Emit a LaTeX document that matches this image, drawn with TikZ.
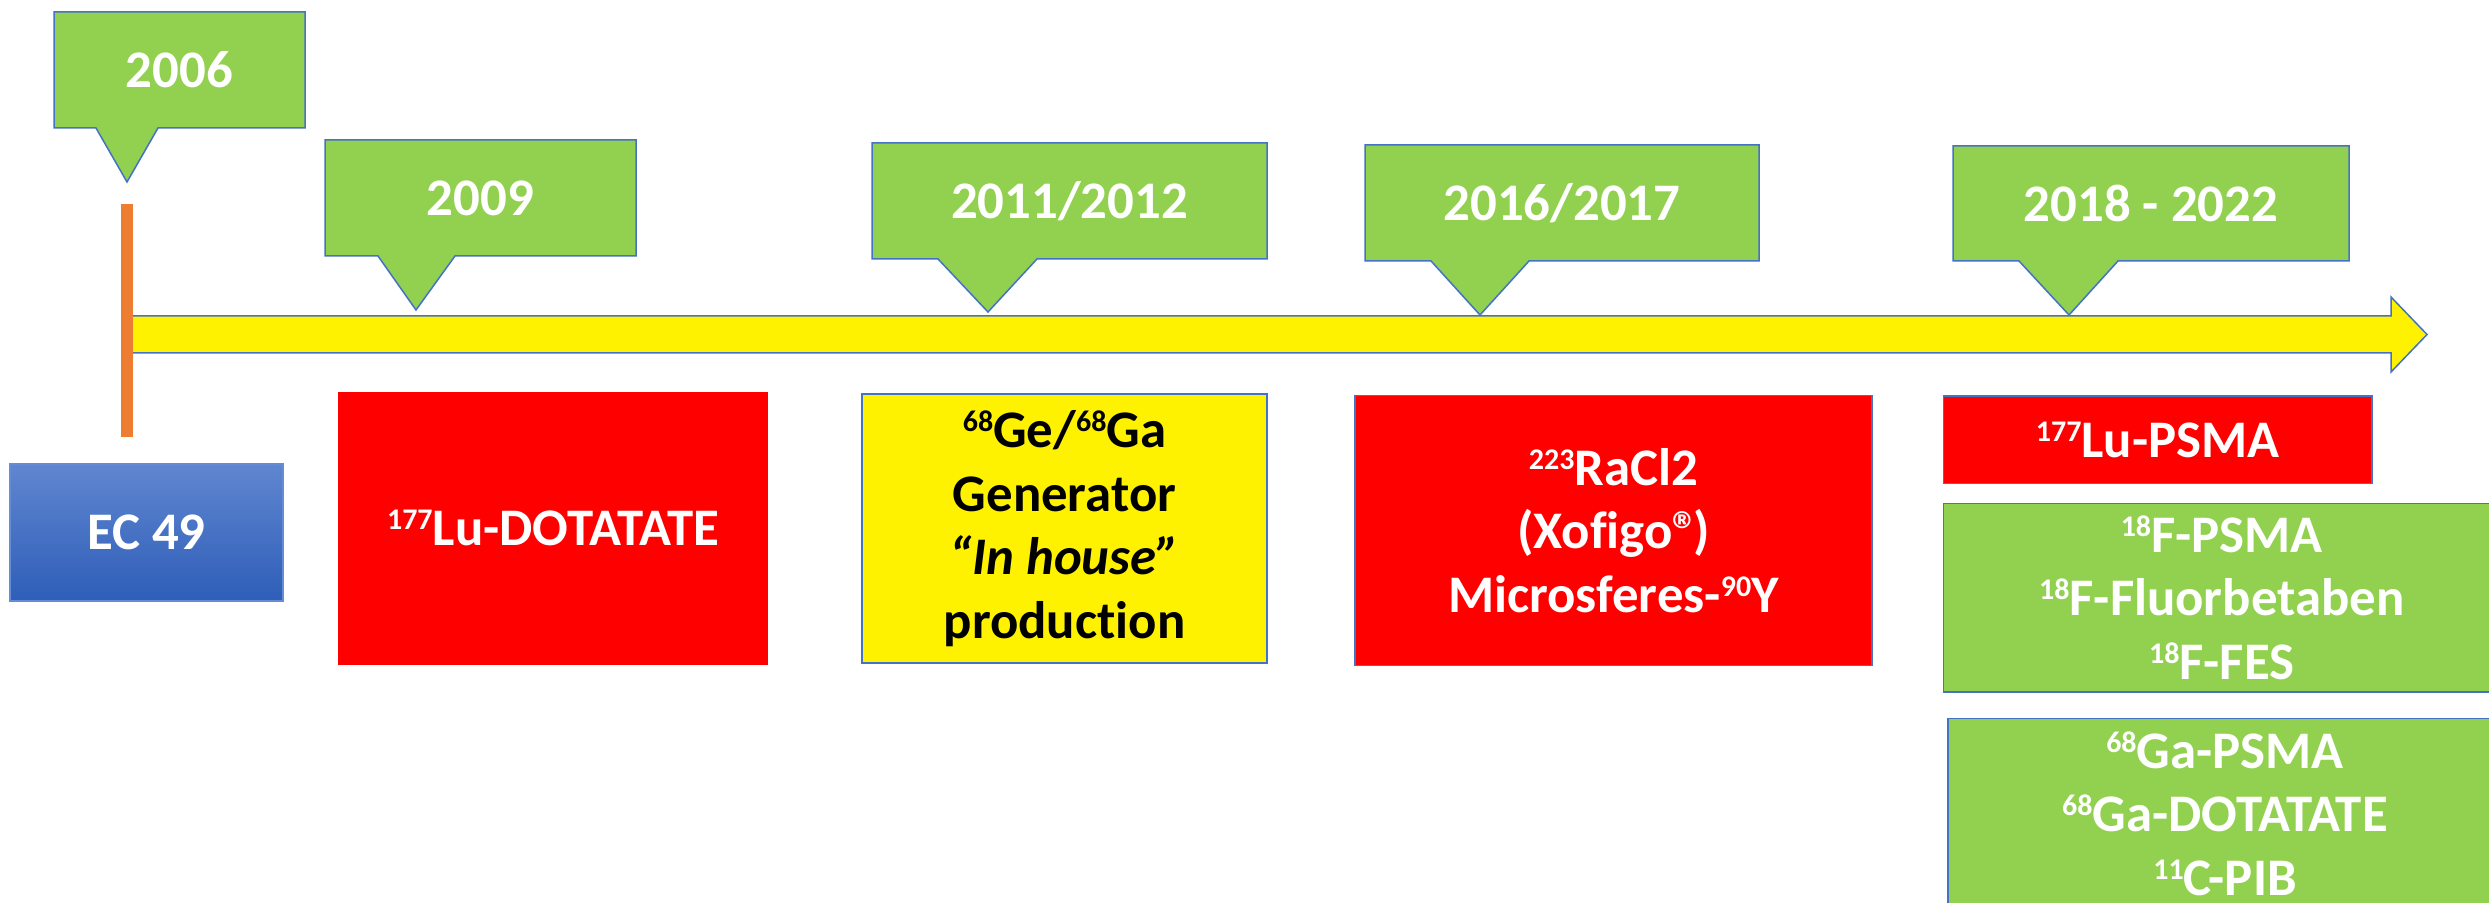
\documentclass[tikz,border=0pt]{standalone}
\usepackage{fontspec}
\setmainfont{Carlito}[Ligatures=NoCommon]
\definecolor{offgreen}{HTML}{92D050}
\definecolor{offblue}{HTML}{4472C4}
\definecolor{offorange}{HTML}{ED7D31}
\definecolor{ecTop}{RGB}{96,134,208}
\definecolor{ecBot}{RGB}{46,94,184}
\newcommand\isot[1]{\raisebox{8pt}{\fontsize{15pt}{15pt}\selectfont #1}}
\begin{document}
\begin{tikzpicture}[x=0.5pt,y=-0.5pt,
  outl/.style={draw=offblue,line width=0.75pt},
  callout/.style={outl,fill=offgreen},
  txt/.style={font=\fontsize{26.4pt}{31.8pt}\selectfont\bfseries,align=center,inner sep=0pt},
  wtxt/.style={txt,text=white},
  btxt/.style={txt,text=black},
  boxbase/.style={rectangle,inner sep=0pt,outer sep=0pt,line width=0.75pt},
  redbox/.style={boxbase,fill=red,draw=offblue},
  greenbox/.style={boxbase,fill=offgreen,draw=offblue},
  yellowbox/.style={boxbase,fill=yellow,draw=offblue}]
\useasboundingbox (0,0) rectangle (2489,903);
\clip (0,0) rectangle (2489,903);

% timeline arrow
\draw[outl,fill=yellow] (127,316) -- (2391,316) -- (2391,297) -- (2427,334.5) -- (2391,372) -- (2391,353) -- (127,353) -- cycle;
% orange start bar
\fill[offorange] (121,204) rectangle (133,437);

% callouts
\draw[callout] (54,12) -- (305,12) -- (305,128) -- (158,128) -- (127,182) -- (96,128) -- (54,128) -- cycle;
\node[wtxt] (y2006) at (179.5,70) {2006};

\draw[callout] (325,140) -- (636,140) -- (636,256) -- (455,256) -- (416,310) -- (378,256) -- (325,256) -- cycle;
\node[wtxt] (y2009) at (480.5,198) {2009};

\draw[callout] (872,143) -- (1267,143) -- (1267,259) -- (1037,259) -- (988,312) -- (938,259) -- (872,259) -- cycle;
\node[wtxt] (y2011) at (1069.5,201) {2011/2012};

\draw[callout] (1365,145) -- (1759,145) -- (1759,261) -- (1529,261) -- (1480,315) -- (1431,261) -- (1365,261) -- cycle;
\node[wtxt] (y2016) at (1562,203) {2016/2017};

\draw[callout] (1953,146) -- (2349,146) -- (2349,261) -- (2118,261) -- (2069,315) -- (2019,261) -- (1953,261) -- cycle;
\node[wtxt] (y2018) at (2151,203.5) {2018 - 2022};

% boxes
\node[boxbase,draw={rgb,255:red,100;green,140;blue,215},top color=ecTop,bottom color=ecBot,minimum width=136.5pt,minimum height=68.5pt] (ecbox) at (146.5,532.5) {};
\node[wtxt] (ec) at (ecbox.center) {EC 49};

\node[redbox,draw=red,minimum width=214pt,minimum height=135.75pt] (dota) at (553,528.25) {};
\node[wtxt] (dotat) at (dota.center) {\isot{177}Lu-DOTATATE};

\node[yellowbox,minimum width=202.5pt,minimum height=134.5pt] (gen) at (1064.5,528.5) {};
\node[btxt] (gent) at (gen.center) {\isot{68}Ge/\isot{68}Ga\\Generator\\{\itshape “In house”}\\production};

\node[redbox,minimum width=258.5pt,minimum height=135pt] (ra) at (1613.5,530.5) {};
\node[wtxt] (rat) at (ra.center) {\isot{223}RaCl2\\(Xofigo®\kern-3pt)\\Microsferes-\isot{90}Y};

\node[redbox,minimum width=214.25pt,minimum height=43.75pt] (lu) at (2157.75,439.75) {};
\node[wtxt] (lut) at (lu.center) {\isot{177}Lu-PSMA};

\node[greenbox,minimum width=278.25pt,minimum height=94.25pt] (f18) at (2221.75,597.75) {};
\node[wtxt] (f18t) at (f18.center) {\isot{18}F-PSMA\\\isot{18}F-Fluorbetaben\\\isot{18}F-FES};

\node[greenbox,minimum width=277pt,minimum height=120pt] (ga) at (2225,838.5) {};
\node[wtxt] (gat) at (2225,813.5) {\isot{68}Ga-PSMA\\\isot{68}Ga-DOTATATE\\\isot{11}C-PIB};
\end{tikzpicture}
\end{document}
